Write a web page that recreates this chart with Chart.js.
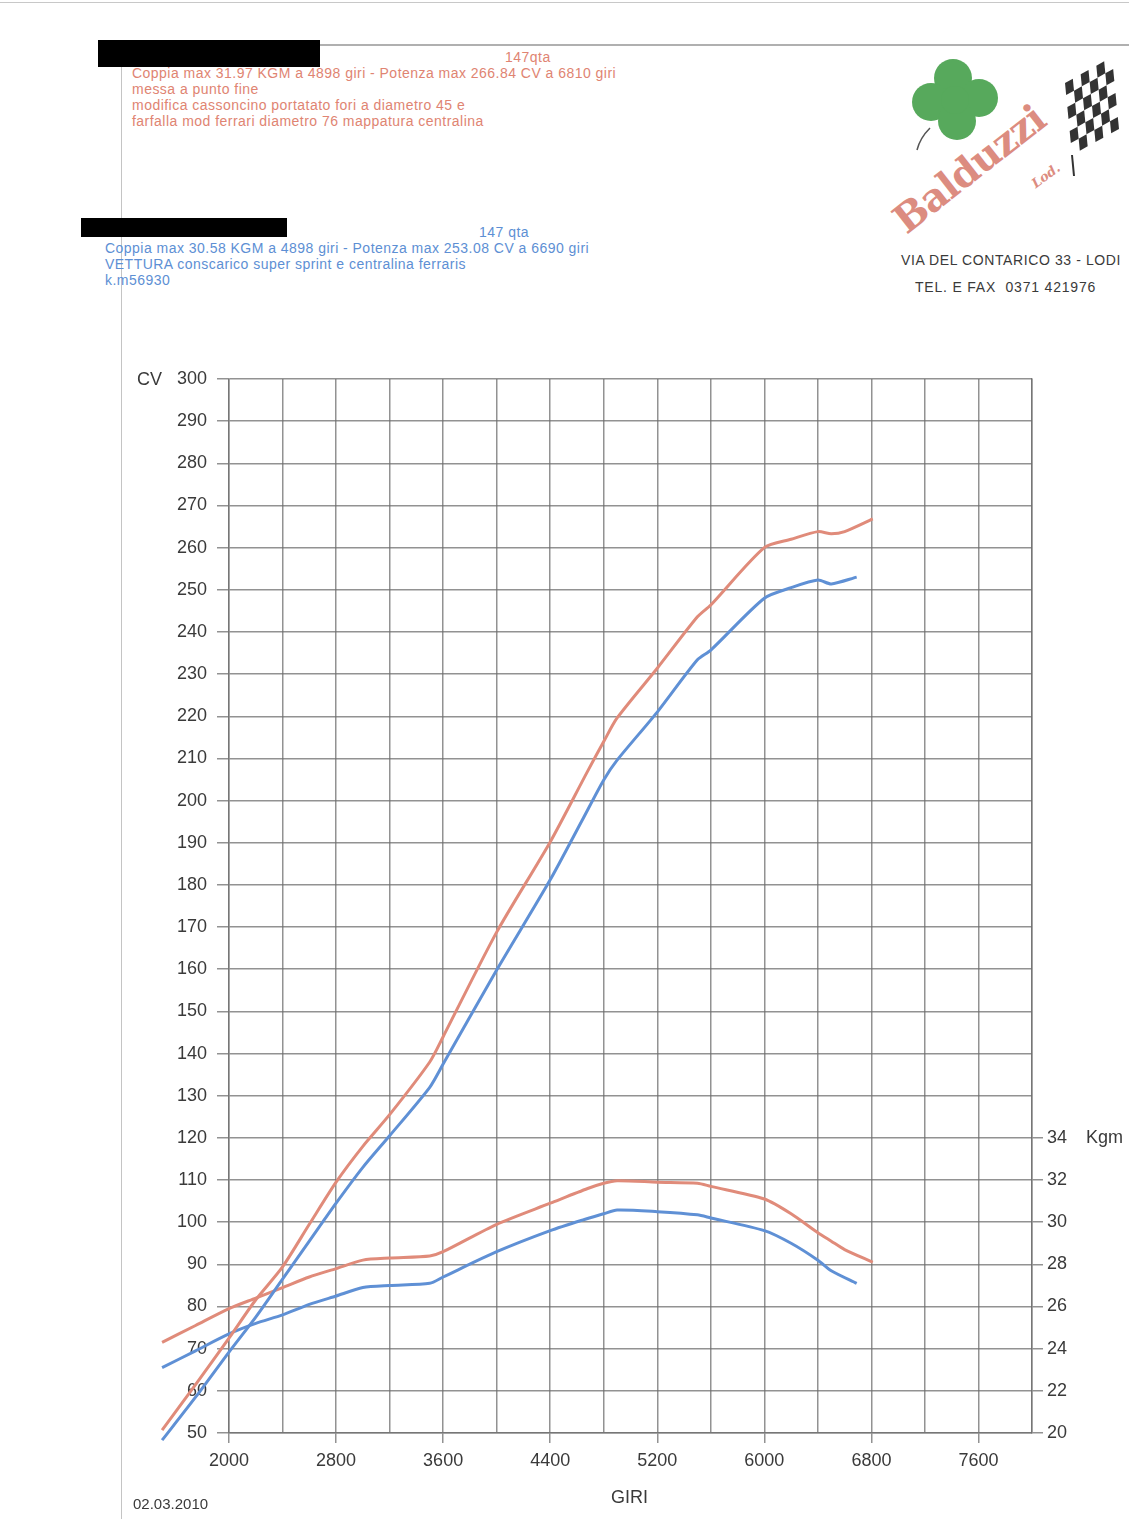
<!DOCTYPE html>
<html>
<head>
<meta charset="utf-8">
<script src="https://cdn.jsdelivr.net/npm/chart.js@4.4.1/dist/chart.umd.min.js"></script>
<style>
  html, body { margin: 0; padding: 0; background: #fff; }
  #page { position: relative; width: 1129px; height: 1519px; overflow: hidden;
          font-family: "Liberation Sans", Arial, sans-serif; }
  #wrap { position: absolute; left: 0; top: 0; width: 1129px; height: 1519px; }
  .abs { position: absolute; white-space: nowrap; }
  .red { color: #e08472; font-size: 14px; line-height: 16px; letter-spacing: 0.47px; }
  .blue { color: #5d8fd4; font-size: 14px; line-height: 16px; letter-spacing: 0.47px; }
  .black { background: #000; position: absolute; }
  .ax { color: #3a3a3a; font-size: 18px; }
</style>
</head>
<body>
<div id="page">
  <!-- scan borders -->
  <div class="abs" style="left:0;top:2px;width:1129px;height:1px;background:#c8c8c8"></div>
  <div class="abs" style="left:320px;top:44px;width:809px;height:2px;background:#b0b0b0"></div>
  <div class="abs" style="left:121px;top:60px;width:1px;height:1459px;background:#c4c4c4"></div>

  <!-- header, car 1 -->
  <div class="black" style="left:98px;top:40px;width:222px;height:27px"></div>
  <div class="abs red" style="left:505px;top:49px">147qta</div>
  <div class="abs red" style="left:132px;top:65px">Coppia max 31.97 KGM a 4898 giri - Potenza max 266.84 CV a 6810 giri<br>messa a punto fine<br>modifica cassoncino portatato fori a diametro 45 e<br>farfalla mod ferrari diametro 76 mappatura centralina</div>

  <!-- header, car 2 -->
  <div class="black" style="left:81px;top:218px;width:206px;height:19px"></div>
  <div class="abs blue" style="left:479px;top:224px">147 qta</div>
  <div class="abs blue" style="left:105px;top:240px">Coppia max 30.58 KGM a 4898 giri - Potenza max 253.08 CV a 6690 giri<br>VETTURA conscarico super sprint e centralina ferraris<br>k.m56930</div>

  <!-- logo -->
  <svg class="abs" style="left:0;top:0" width="1129" height="320">
    <g fill="#57a95c">
      <circle cx="953" cy="78" r="19"/>
      <circle cx="931" cy="102" r="19"/>
      <circle cx="979" cy="98" r="19"/>
      <circle cx="957" cy="121" r="19"/>
      <circle cx="955" cy="100" r="14"/>
    </g>
    <path d="M930 128 Q920 138 917 150" stroke="#555" stroke-width="1.5" fill="none"/>
    <line x1="1072" y1="155" x2="1074" y2="176" stroke="#333" stroke-width="2"/>
    <g id="flag" transform="matrix(47,-26,7,72,1065,83)"></g>
  </svg>
  <div class="abs" style="left:912px;top:196px;transform:rotate(-38deg);transform-origin:0 100%;
       font-family:'DejaVu Serif',serif;font-weight:bold;font-size:39px;color:#dc8c80;letter-spacing:-1px">Balduzzi</div>
  <div class="abs" style="left:1030px;top:168px;transform:rotate(-36deg);
       font-family:'DejaVu Serif',serif;font-style:italic;font-weight:bold;font-size:13px;color:#dc8c80">Lod.</div>
  <div class="abs" style="left:901px;top:252px;font-size:14px;color:#3a3a3a;letter-spacing:0.6px">VIA DEL CONTARICO 33 - LODI</div>
  <div class="abs" style="left:915px;top:279px;font-size:14px;color:#3a3a3a;letter-spacing:0.8px">TEL. E FAX&nbsp; 0371 421976</div>

  <div id="wrap"><canvas id="dyno"></canvas></div>

  <!-- axis names -->
  <div class="abs ax" style="left:137px;top:369px">CV</div>
  <div class="abs ax" style="left:1086px;top:1127px">Kgm</div>
  <div class="abs ax" style="left:611px;top:1487px">GIRI</div>
  <div class="abs" style="left:133px;top:1495px;font-size:15px;color:#3a3a3a">02.03.2010</div>
</div>

<script>
// checkered flag cells
const flag = document.getElementById("flag");
for (let r = 0; r < 6; r++) {
  for (let c = 0; c < 6; c++) {
    if ((r + c) % 2 === 0) {
      const cell = document.createElementNS("http://www.w3.org/2000/svg", "rect");
      cell.setAttribute("x", c / 6);
      cell.setAttribute("y", r / 6);
      cell.setAttribute("width", 1 / 6);
      cell.setAttribute("height", 1 / 6);
      cell.setAttribute("fill", "#333");
      flag.appendChild(cell);
    }
  }
}

// car 1 (red) - tuned
const rpm1 = [1500, 1750, 2000, 2200, 2400, 2600, 2800, 3000, 3200, 3500, 3600, 4000, 4400, 4680, 4800, 4900, 5200, 5500, 5600, 6000, 6200, 6400, 6500, 6600, 6810];
const power1 = [50.7, 61.5, 72.5, 81.6, 89.4, 99.5, 109.5, 118, 125.5, 138, 144, 168.8, 190.2, 207, 214, 219.6, 231.4, 243.6, 246.4, 260, 262, 263.8, 263.3, 263.8, 266.8];
const torque1 = [24.3, 25.1, 25.9, 26.4, 26.9, 27.4, 27.8, 28.2, 28.3, 28.4, 28.6, 29.9, 30.9, 31.6, 31.85, 31.97, 31.9, 31.85, 31.7, 31.1, 30.4, 29.5, 29.1, 28.7, 28.1];

// car 2 (blue)
const rpm2 = [1500, 1750, 2000, 2200, 2400, 2600, 2800, 3000, 3200, 3500, 3600, 4000, 4400, 4640, 4800, 4900, 5200, 5500, 5600, 6000, 6200, 6400, 6500, 6690];
const power2 = [48.3, 58.5, 69.2, 77.5, 86.5, 95.5, 104.5, 113, 120.5, 132, 137.5, 159.8, 181.2, 195.4, 204.9, 209.6, 221, 233.4, 235.7, 248, 250.5, 252.3, 251.4, 253];
const torque2 = [23.1, 23.9, 24.7, 25.2, 25.6, 26.1, 26.5, 26.9, 27.0, 27.1, 27.4, 28.6, 29.6, 30.1, 30.4, 30.58, 30.5, 30.35, 30.2, 29.6, 29.0, 28.2, 27.7, 27.1];

// axis ranges
const rpmRange = [2000, 8000];
const cvRange = [50, 300];
const kgmRange = [20, 70];
const kgmShownMax = 34;

const RED = "#e08b7a";
const BLUE = "#5f90d5";
const GRID = "rgba(110,110,110,0.75)";

function points(xs, ys) {
  return xs.map((x, i) => ({ x: x, y: ys[i] }));
}

function line(label, data, color, axis) {
  return {
    label: label,
    data: data,
    borderColor: color,
    borderWidth: 3,
    pointRadius: 0,
    tension: 0.25,
    clip: false,
    yAxisID: axis,
  };
}

new Chart(document.getElementById("dyno"), {
  type: "line",
  data: {
    datasets: [
      line("Potenza 1", points(rpm1, power1), RED, "y"),
      line("Potenza 2", points(rpm2, power2), BLUE, "y"),
      line("Coppia 1", points(rpm1, torque1), RED, "y2"),
      line("Coppia 2", points(rpm2, torque2), BLUE, "y2"),
    ],
  },
  options: {
    responsive: true,
    maintainAspectRatio: false,
    animation: false,
    layout: { padding: { left: 129, right: 37, top: 379, bottom: 36 } },
    plugins: { legend: { display: false }, tooltip: { enabled: false } },
    scales: {
      x: {
        type: "linear",
        afterDataLimits: (s) => { s.min = rpmRange[0]; s.max = rpmRange[1]; },
        afterFit: (s) => { s.height = 50; },
        ticks: {
          stepSize: 400,
          autoSkip: false,
          maxRotation: 0,
          padding: 7,
          color: "#3a3a3a",
          font: { family: "Liberation Sans", size: 18 },
          callback: (v) => ((v - 2000) % 800 === 0 && v < 8000 ? String(v) : ""),
        },
        grid: {
          color: GRID,
          lineWidth: 1.5,
          tickLength: 10,
          tickColor: (ctx) =>
            ctx.tick && (ctx.tick.value - 2000) % 800 === 0 && ctx.tick.value < 8000 ? GRID : "rgba(0,0,0,0)",
        },
        border: { color: GRID, width: 1.5 },
      },
      y: {
        position: "left",
        min: cvRange[0],
        max: cvRange[1],
        afterFit: (s) => { s.width = 100; },
        ticks: {
          stepSize: 10,
          padding: 10,
          color: "#3a3a3a",
          font: { family: "Liberation Sans", size: 18 },
        },
        grid: { color: GRID, lineWidth: 1.5, tickLength: 12 },
        border: { color: GRID, width: 1.5 },
      },
      y2: {
        position: "right",
        min: kgmRange[0],
        max: kgmRange[1],
        afterFit: (s) => { s.width = 60; },
        ticks: {
          stepSize: 2,
          padding: 4,
          color: "#3a3a3a",
          font: { family: "Liberation Sans", size: 18 },
          callback: (v) => (v <= kgmShownMax ? String(v) : ""),
        },
        grid: {
          drawOnChartArea: false,
          lineWidth: 1.5,
          tickLength: 11,
          tickColor: (ctx) => (ctx.tick && ctx.tick.value <= kgmShownMax ? GRID : "rgba(0,0,0,0)"),
        },
        border: { color: GRID, width: 1.5 },
      },
    },
  },
});
</script>
</body>
</html>
